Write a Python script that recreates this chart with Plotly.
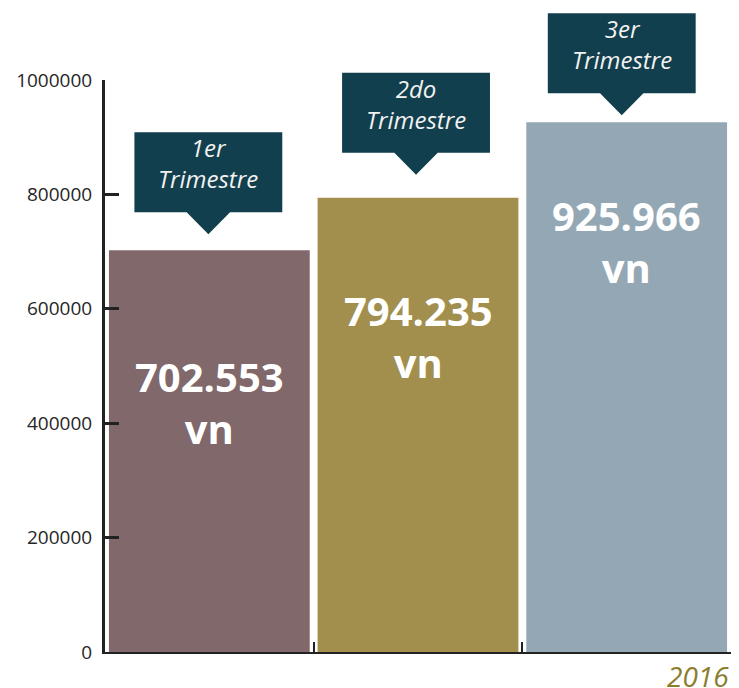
import plotly.graph_objects as go

# ---- data ----
categories = ["1er Trimestre", "2do Trimestre", "3er Trimestre"]
callout_top = ["1er", "2do", "3er"]
callout_bottom = ["Trimestre", "Trimestre", "Trimestre"]
values = [702553, 794235, 925966]
unit = "vn"
year_label = "2016"
y_ticks = [0, 200000, 400000, 600000, 800000, 1000000]

# ---- style ----
bar_colors = ["#80686b", "#a28f4e", "#93a8b4"]
box_color = "#123f4d"
axis_color = "#222222"
font_family = "Open Sans, Noto Sans, sans-serif"

# page body has an 8px margin, so the figure is drawn 8px in from the window corner
W, H = 731, 680
L, R, T, B = 88, 8, 72, 36
PW, PH = W - L - R, H - T - B
YMAX = 1000000

def px_x(i):
    return L + (i + 0.5) * PW / len(categories)

def px_y(v):
    return T + PH - v / YMAX * PH

def paper_x(px):
    return (px - L) / PW

def paper_y(py):
    return (T + PH - py) / PH

# per-bar label/callout offsets (pixels)
label_off = [152, 139, 119]
tip_gap = [16, 23, 7]
box_dx = [-1, -2, -5]
box_w, box_h, tri_hw, tri_d = 150, 80, 22, 22

fig = go.Figure()
fig.add_trace(go.Bar(
    x=categories, y=values,
    marker=dict(color=bar_colors, line=dict(width=0)),
    hoverinfo="skip",
))

shapes = []
annotations = []
for i, (c, v) in enumerate(zip(categories, values)):
    label = f"{v:,}".replace(",", ".")
    annotations.append(dict(
        x=c, y=v, xref="x", yref="y", text=f"<b>{label}<br>{unit}</b>",
        showarrow=False, yanchor="middle", yshift=-label_off[i],
        font=dict(family=font_family, size=40, color="white"),
    ))
    cx = px_x(i) + box_dx[i]
    tip_y = px_y(v) - tip_gap[i]
    bottom = tip_y - tri_d
    top = bottom - box_h
    path = (
        f"M {paper_x(cx - box_w/2)},{paper_y(top)} "
        f"L {paper_x(cx + box_w/2)},{paper_y(top)} "
        f"L {paper_x(cx + box_w/2)},{paper_y(bottom)} "
        f"L {paper_x(cx + tri_hw)},{paper_y(bottom)} "
        f"L {paper_x(cx)},{paper_y(tip_y)} "
        f"L {paper_x(cx - tri_hw)},{paper_y(bottom)} "
        f"L {paper_x(cx - box_w/2)},{paper_y(bottom)} Z"
    )
    shapes.append(dict(type="path", path=path, xref="paper", yref="paper",
                       fillcolor=box_color, line=dict(width=0), layer="above"))
    annotations.append(dict(
        x=paper_x(cx), y=paper_y((top + bottom) / 2), xref="paper", yref="paper",
        text=f"<i>{callout_top[i]}<br>{callout_bottom[i]}</i>",
        showarrow=False, yanchor="middle", xanchor="center", yshift=9,
        font=dict(family=font_family, size=24, color="#f2f2f2"),
    ))

annotations.append(dict(
    x=1, y=paper_y(668), xref="paper", yref="paper", text=f"<i>{year_label}</i>",
    showarrow=False, xanchor="right", yanchor="middle", xshift=0,
    font=dict(family=font_family, size=28, color="#8b7d2e"),
))

fig.update_layout(
    width=W, height=H,
    margin=dict(l=L, r=R, t=T, b=B, pad=0),
    paper_bgcolor="white", plot_bgcolor="white",
    bargap=8 / (PW / 3),
    showlegend=False,
    shapes=shapes,
    annotations=annotations,
    xaxis=dict(
        showline=True, linecolor=axis_color, linewidth=2,
        ticks="inside", tickson="boundaries", ticklen=10, tickwidth=2, tickcolor=axis_color,
        showticklabels=False, showgrid=False, zeroline=False,
        range=[-0.5, 2.5],
    ),
    yaxis=dict(
        range=[0, YMAX], tickvals=y_ticks, ticktext=[str(t) for t in y_ticks],
        showline=True, linecolor=axis_color, linewidth=3,
        ticks="inside", ticklen=14, tickwidth=3, tickcolor=axis_color,
        showgrid=False, zeroline=False,
        tickfont=dict(family=font_family, size=19, color="#262626"),
        ticklabelstandoff=6,
    ),
)

fig.write_html("out.html")
